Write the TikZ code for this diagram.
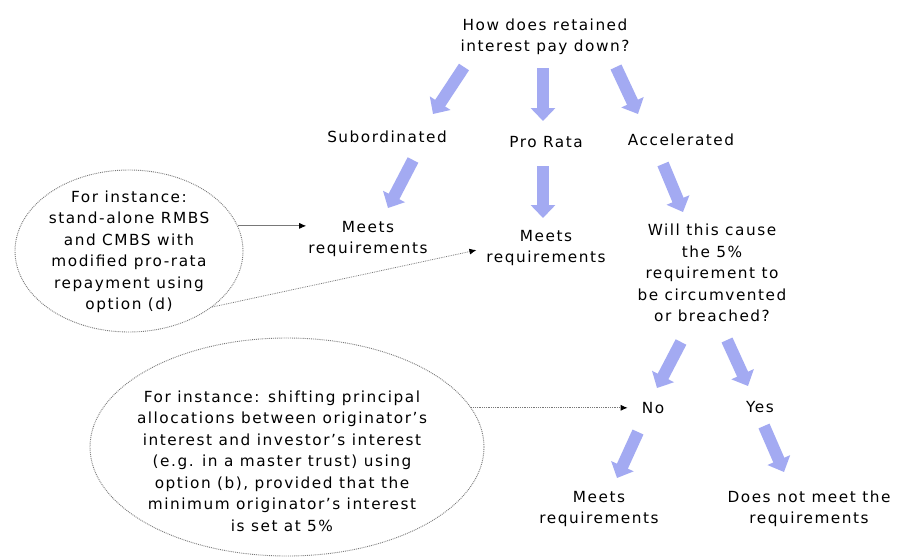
\documentclass[tikz,border=0pt]{standalone}
\usepackage{fontspec}
\setmainfont{DejaVu Sans}[LetterSpace=10]
\usetikzlibrary{arrows.meta,shapes.geometric}
\definecolor{blkblue}{RGB}{163,170,242}
\definecolor{lgray}{RGB}{120,120,120}
\tikzset{
  txt/.style={align=center,inner sep=0pt,font=\fontsize{15.3}{21.5}\selectfont},
  blk/.style={draw=blkblue,line width=12pt,-{Triangle[width=24pt,length=13pt]},shorten >=0pt},
  conn/.style={draw=lgray,line width=0.8pt,-{Latex[length=7pt,width=6pt,black]}},
  dconn/.style={conn,densely dotted},
  bubble/.style={ellipse,draw=lgray,densely dotted,line width=0.9pt,inner sep=0pt}
}
\begin{document}
\begin{tikzpicture}[x=1pt,y=-1pt]
\useasboundingbox (0,0) rectangle (898,558);
\fill[white] (0,0) rectangle (898,558);
% text nodes
\node[txt] (q) at (545,37) {How does retained\\interest pay down?};
\node[txt] (sub) at (387,137) {Subordinated};
\node[txt] (pro) at (546,142) {Pro Rata};
\node[txt] (acc) at (681,140) {Accelerated};
\node[txt] (m1) at (368,239) {Meets\\requirements};
\node[txt] (m2) at (546,248) {Meets\\requirements};
\node[txt] (will) at (712,273) {Will this cause\\the 5\%\\requirement to\\be circumvented\\or breached?};
\node[txt] (no) at (653,408) {No};
\node[txt] (yes) at (760,407) {Yes};
\node[txt] (m3) at (599,509) {Meets\\requirements};
\node[txt] (dn) at (809,509) {Does not meet the\\requirements};
% bubbles
\node[bubble,minimum width=228pt,minimum height=162pt] (e1) at (129,251) {};
\node[txt] (e1t) at (129,252) {For instance:\\stand-alone RMBS\\and CMBS with\\modified pro-rata\\repayment using\\option (d)};
\node[bubble,minimum width=394pt,minimum height=218pt] (e2) at (287,447) {};
\node[txt] (e2t) at (282,461) {For instance: shifting principal\\allocations between originator’s\\interest and investor’s interest\\(e.g. in a master trust) using\\option (b), provided that the\\minimum originator’s interest\\is set at 5\%};
% block arrow end points
\coordinate (a1s) at (464,67);  \coordinate (a1e) at (433,114);
\coordinate (a2s) at (543,68);  \coordinate (a2e) at (543,121);
\coordinate (a3s) at (616,67);  \coordinate (a3e) at (638,114);
\coordinate (b1s) at (413,160); \coordinate (b1e) at (388,208);
\coordinate (b2s) at (543,166); \coordinate (b2e) at (543,218);
\coordinate (b3s) at (663,164); \coordinate (b3e) at (683,212);
\coordinate (c1s) at (681,342); \coordinate (c1e) at (657,388);
\coordinate (c2s) at (727,340); \coordinate (c2e) at (748,386);
\coordinate (d1s) at (638,432); \coordinate (d1e) at (617,478);
\coordinate (d2s) at (764,426); \coordinate (d2e) at (784,472);
\foreach \s/\e in {a1s/a1e,a2s/a2e,a3s/a3e,b1s/b1e,b2s/b2e,b3s/b3e,c1s/c1e,c2s/c2e,d1s/d1e,d2s/d2e}
  \draw[blk] (\s) -- (\e);
% connectors
\draw[conn,shorten >=2pt] (e1.13) -- (e1.13 -| m1.west);
\draw[dconn,shorten >=10pt] (e1.-34) -- (m2.west);
\draw[dconn,shorten >=14pt] (e2.12) -- (e2.12 -| no.west);
\end{tikzpicture}
\end{document}
